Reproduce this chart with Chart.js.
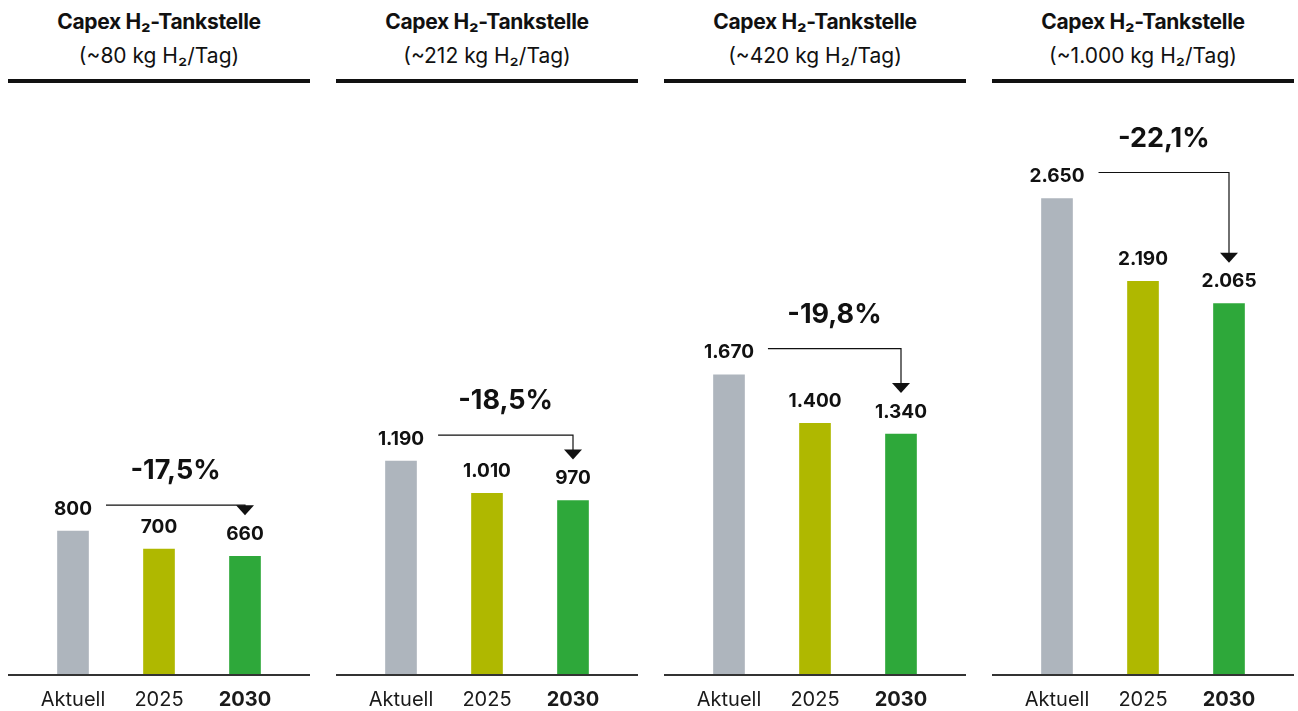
<!DOCTYPE html>
<html lang="de">
<head>
<meta charset="utf-8">
<title>Capex H2-Tankstelle</title>
<script src="https://cdn.jsdelivr.net/npm/chart.js@4.4.1/dist/chart.umd.min.js"></script>
<style>
  html, body { margin: 0; padding: 0; background: #fff; }
  body { width: 1298px; height: 711px; position: relative; overflow: hidden; font-family: Inter, Roboto, "Noto Sans", sans-serif; color: #111; }
  .panel { position: absolute; top: 0; width: 302px; height: 711px; }
  .head { position: absolute; left: 0; top: 0; width: 302px; height: 79px; border-bottom: 4px solid #111; text-align: center; }
  .head .t1 { position: absolute; left: 0; right: 0; top: 9px; font-size: 21px; font-weight: 700; line-height: 26px; letter-spacing: -0.3px; }
  .head .t2 { position: absolute; left: 0; right: 0; top: 43px; font-size: 21px; font-weight: 400; line-height: 26px; }
  .plot { position: absolute; left: 0; top: 114px; width: 302px; height: 611px; }
</style>
</head>
<body>
<div id="charts"></div>
<script>
/* ── Data ─────────────────────────────────────────────── */
const categories = ['Aktuell', '2025', '2030'];
const capacities = ['~80', '~212', '~420', '~1.000'];
const capexAktuell = [800, 1190, 1670, 2650];
const capex2025 = [700, 1010, 1400, 2190];
const capex2030 = [660, 970, 1340, 2065];

const barColors = ['#AEB5BD', '#AFB800', '#2EA83A'];
const FONT = 'Inter, Roboto, "Noto Sans", sans-serif';

// German number format: 1190 -> 1.190
const fmt = v => String(v).replace(/\B(?=(\d{3})+(?!\d))/g, '.');
const pct = (a, b) => ((b - a) / a * 100).toFixed(1).replace('.', ',') + '%';

/* ── Labels + arrow plugin ─────────────────────────────── */
const annotate = {
    id: 'annotate',
    afterDatasetsDraw(chart) {
        const { ctx, chartArea } = chart;
        const bars = chart.getDatasetMeta(0).data;
        const vals = chart.data.datasets[0].data;

        ctx.save();
        // baseline over full panel width
        ctx.strokeStyle = '#333';
        ctx.lineWidth = 2;
        ctx.beginPath();
        ctx.moveTo(0, chartArea.bottom);
        ctx.lineTo(chart.width, chartArea.bottom);
        ctx.stroke();

        // value labels
        ctx.fillStyle = '#111';
        ctx.font = '700 19px ' + FONT;
        ctx.textAlign = 'center';
        ctx.textBaseline = 'middle';
        bars.forEach((b, i) => ctx.fillText(fmt(vals[i]), b.x, b.y - 22));

        // connector from first to last bar
        const first = bars[0], last = bars[bars.length - 1];
        const w = ctx.measureText(fmt(vals[0])).width;
        const x0 = first.x + w / 2 + 14;
        const y0 = first.y - 26;
        const tipY = last.y - 41;
        ctx.strokeStyle = '#111';
        ctx.lineWidth = 1.2;
        ctx.beginPath();
        ctx.moveTo(x0, y0);
        ctx.lineTo(last.x, y0);
        ctx.lineTo(last.x, tipY - 9);
        ctx.stroke();
        ctx.beginPath();
        ctx.moveTo(last.x - 9, tipY - 10);
        ctx.lineTo(last.x + 9, tipY - 10);
        ctx.lineTo(last.x, tipY);
        ctx.closePath();
        ctx.fill();

        ctx.font = '700 27px ' + FONT;
        ctx.fillText(pct(vals[0], vals[vals.length - 1]), (x0 + last.x) / 2, y0 - 34);
        ctx.restore();
    }
};

/* ── Build panels ──────────────────────────────────────── */
const root = document.getElementById('charts');

capacities.forEach((cap, p) => {
    const panel = document.createElement('div');
    panel.className = 'panel';
    panel.style.left = (8 + p * 328) + 'px';
    panel.innerHTML = `
      <div class="head">
        <div class="t1">Capex H₂-Tankstelle</div>
        <div class="t2">(${cap} kg H₂/Tag)</div>
      </div>
      <div class="plot"><canvas></canvas></div>`;
    root.appendChild(panel);

    new Chart(panel.querySelector('canvas'), {
        type: 'bar',
        data: {
            labels: categories,
            datasets: [{
                data: [capexAktuell[p], capex2025[p], capex2030[p]],
                backgroundColor: barColors,
                barThickness: 31,
            }]
        },
        options: {
            responsive: true,
            maintainAspectRatio: false,
            animation: false,
            layout: { padding: { left: 22, right: 22, top: 0, bottom: 0 } },
            plugins: { legend: { display: false }, tooltip: { enabled: false } },
            scales: {
                x: {
                    grid: { display: false, drawTicks: false },
                    border: { display: false },
                    ticks: {
                        padding: 13,
                        color: '#1a1a1a',
                        font: c => ({ family: FONT, size: 20, weight: c.index === 2 ? '700' : '400' })
                    }
                },
                y: { display: false, min: 0, max: 3120 }
            }
        },
        plugins: [annotate]
    });
});
</script>
</body>
</html>
